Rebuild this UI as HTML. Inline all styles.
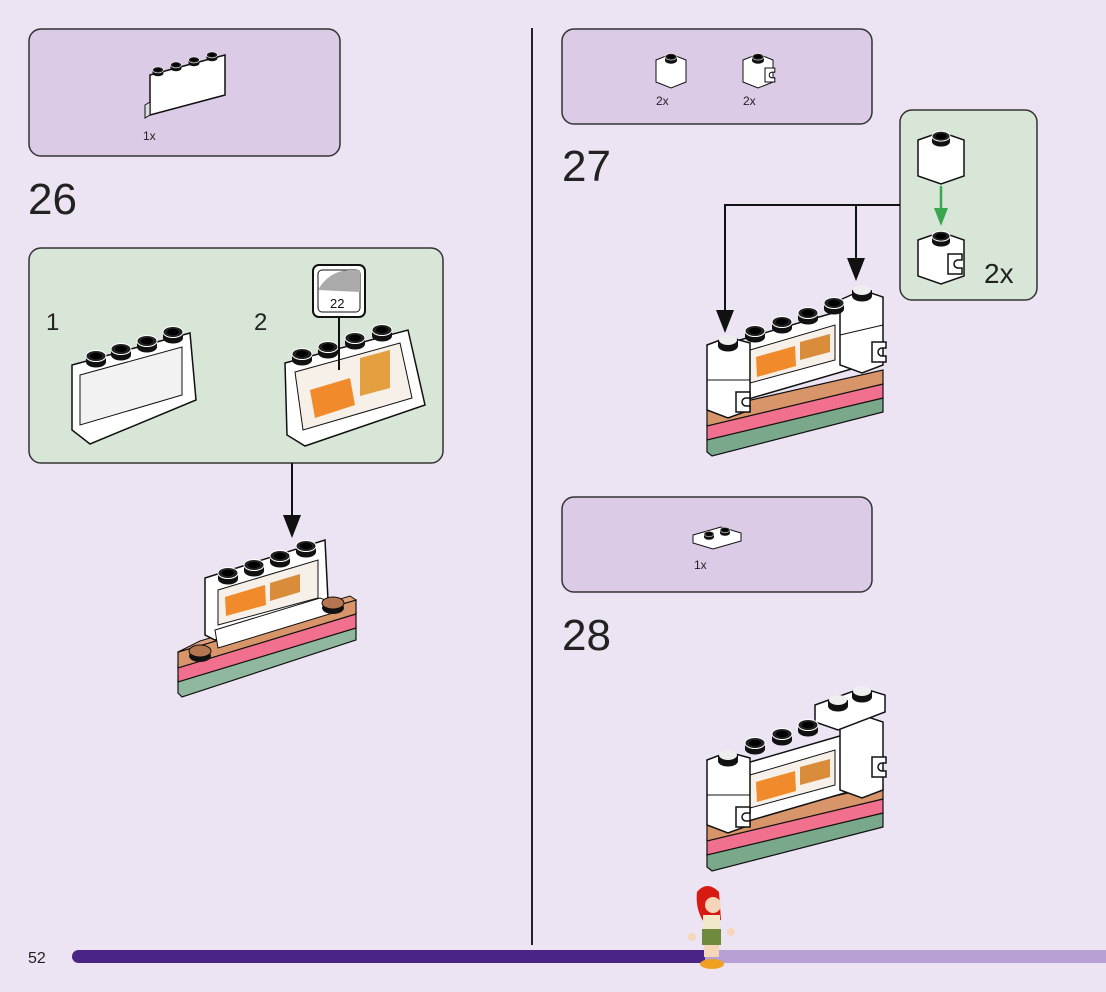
<!DOCTYPE html>
<html><head><meta charset="utf-8"><style>
html,body{margin:0;padding:0;background:#ede4f3;}
svg{display:block;font-family:"Liberation Sans",sans-serif;}
</style></head><body>
<svg width="1106" height="992" viewBox="0 0 1106 992" xmlns="http://www.w3.org/2000/svg">
<defs>
<g id="stud"><ellipse cx="0" cy="4" rx="10" ry="5.5" fill="#111"/><rect x="-10" y="-2" width="20" height="6" fill="#111"/><ellipse cx="0" cy="-2" rx="10" ry="5.5" fill="#222" stroke="#fff" stroke-width="1"/><ellipse cx="0" cy="-2" rx="6" ry="3.2" fill="#000"/></g>
<g id="wstud"><ellipse cx="0" cy="4" rx="10" ry="5.5" fill="#111"/><rect x="-10" y="-2" width="20" height="6" fill="#111"/><ellipse cx="0" cy="-2" rx="9" ry="5" fill="#eee"/></g>
<g id="clip"><path d="M0,0 h14 v6 h-4 a4,4 0 1 0 0,8 h4 v6 h-14 z" fill="#fff" stroke="#111" stroke-width="1.5"/></g>
</defs>
<rect width="1106" height="992" fill="#ede4f3"/>

<line x1="532" y1="28" x2="532" y2="945" stroke="#222" stroke-width="2"/>

<rect x="29" y="29" width="311" height="127" rx="12" fill="#dccbe6" stroke="#333" stroke-width="1.5"/>
<g transform="translate(145,50)">
<polygon points="5,25 80,5 80,45 5,65" fill="#fff" stroke="#111" stroke-width="1.5"/>
<polygon points="0,55 5,52 5,65 0,68" fill="#ddd" stroke="#111"/>
<use href="#stud" transform="translate(13,21) scale(0.55)"/>
<use href="#stud" transform="translate(31,16) scale(0.55)"/>
<use href="#stud" transform="translate(49,11) scale(0.55)"/>
<use href="#stud" transform="translate(67,6) scale(0.55)"/>
</g>
<text x="143" y="140" font-size="12" fill="#222">1x</text>

<text x="28" y="214" font-size="44" fill="#222">26</text>

<rect x="29" y="248" width="414" height="215" rx="12" fill="#d8e6d8" stroke="#333" stroke-width="1.5"/>
<text x="46" y="330" font-size="24" fill="#222">1</text>
<text x="254" y="330" font-size="24" fill="#222">2</text>
<g>
<polygon points="72,365 190,333 196,400 90,444 72,430" fill="#fff" stroke="#111" stroke-width="1.5"/>
<polygon points="80,375 182,347 182,395 80,425" fill="#f2f2f2" stroke="#111" stroke-width="1"/>
<use href="#stud" transform="translate(96,358)"/>
<use href="#stud" transform="translate(121,351)"/>
<use href="#stud" transform="translate(147,343)"/>
<use href="#stud" transform="translate(173,334)"/>
</g>
<g>
<polygon points="285,363 408,330 425,405 305,446 287,435" fill="#fff" stroke="#111" stroke-width="1.5"/>
<polygon points="295,372 400,343 412,398 303,430" fill="#f6f0e8" stroke="#111"/>
<polygon points="310,390 350,378 355,405 315,418" fill="#f08a2a"/>
<polygon points="360,358 390,350 390,388 360,396" fill="#e4a040"/>
<use href="#stud" transform="translate(302,356)"/>
<use href="#stud" transform="translate(328,349)"/>
<use href="#stud" transform="translate(355,340)"/>
<use href="#stud" transform="translate(382,332)"/>
<rect x="313" y="265" width="52" height="52" rx="6" fill="#fff" stroke="#111" stroke-width="2"/>
<rect x="318" y="270" width="42" height="42" rx="4" fill="#fff" stroke="#111" stroke-width="1"/>
<path d="M318,290 q10,-18 30,-20 l12,0 l0,22 z" fill="#aaa"/>
<text x="330" y="308" font-size="13" fill="#111">22</text>
<line x1="339" y1="317" x2="339" y2="370" stroke="#111" stroke-width="2"/>
</g>
<line x1="292" y1="463" x2="292" y2="520" stroke="#111" stroke-width="2"/>
<polygon points="283,515 301,515 292,538" fill="#111"/>

<g>
<polygon points="178,680 356,626 356,640 182,697 178,693" fill="#8fb89e" stroke="#111" stroke-width="1.2"/>
<polygon points="178,665 356,612 356,628 178,682" fill="#f0708e" stroke="#111" stroke-width="1.2"/>
<polygon points="178,652 356,600 356,614 178,668" fill="#d8956a" stroke="#111" stroke-width="1.2"/>
<polygon points="178,652 200,641 350,596 356,600" fill="#e1a27a" stroke="#111"/>
<polygon points="205,578 325,540 328,600 215,640 205,635" fill="#fff" stroke="#111" stroke-width="1.5"/>
<polygon points="218,590 318,560 318,598 218,625" fill="#f6f0e8" stroke="#111"/>
<polygon points="225,597 265,585 266,605 226,616" fill="#f08a2a"/>
<polygon points="270,583 300,574 300,592 270,601" fill="#d98c3a"/>
<polygon points="215,630 320,598 336,604 336,612 218,648" fill="#fff" stroke="#111"/>
<use href="#stud" transform="translate(228,575)"/>
<use href="#stud" transform="translate(254,567)"/>
<use href="#stud" transform="translate(280,558)"/>
<use href="#stud" transform="translate(306,548)"/>
<g transform="translate(200,652)"><ellipse cx="0" cy="4" rx="11" ry="6" fill="#111"/><ellipse cx="0" cy="-1" rx="11" ry="6" fill="#b57550" stroke="#111"/></g>
<g transform="translate(333,604)"><ellipse cx="0" cy="4" rx="11" ry="6" fill="#111"/><ellipse cx="0" cy="-1" rx="11" ry="6" fill="#b57550" stroke="#111"/></g>
</g>

<rect x="562" y="29" width="310" height="95" rx="12" fill="#dccbe6" stroke="#333" stroke-width="1.5"/>
<g transform="translate(656,52)">
<polygon points="0,8 15,2 30,8 30,30 15,36 0,30" fill="#fff" stroke="#111"/>
<use href="#stud" transform="translate(15,6) scale(0.6)"/>
</g>
<g transform="translate(743,52)">
<polygon points="0,8 15,2 30,8 30,30 15,36 0,30" fill="#fff" stroke="#111"/>
<use href="#stud" transform="translate(15,6) scale(0.6)"/>
<use href="#clip" transform="translate(22,16) scale(0.7)"/>
</g>
<text x="656" y="105" font-size="12" fill="#222">2x</text>
<text x="743" y="105" font-size="12" fill="#222">2x</text>

<text x="562" y="181" font-size="44" fill="#222">27</text>

<rect x="900" y="110" width="137" height="190" rx="12" fill="#d8e6d8" stroke="#333" stroke-width="1.5"/>
<g transform="translate(918,130)">
<polygon points="0,10 23,2 46,10 46,46 23,54 0,46" fill="#fff" stroke="#111" stroke-width="1.5"/>
<use href="#stud" transform="translate(23,8) scale(0.9)"/>
</g>
<line x1="941" y1="186" x2="941" y2="215" stroke="#3aa64f" stroke-width="2.5"/>
<polygon points="934,208 948,208 941,226" fill="#3aa64f"/>
<g transform="translate(918,230)">
<polygon points="0,10 23,2 46,10 46,46 23,54 0,46" fill="#fff" stroke="#111" stroke-width="1.5"/>
<use href="#stud" transform="translate(23,8) scale(0.9)"/>
<use href="#clip" transform="translate(30,24) scale(1)"/>
</g>
<text x="984" y="283" font-size="28" fill="#222">2x</text>

<polyline points="900,205 725,205 725,315" fill="none" stroke="#111" stroke-width="2"/>
<polygon points="716,310 734,310 725,333" fill="#111"/>
<line x1="856" y1="205" x2="856" y2="262" stroke="#111" stroke-width="2"/>
<polygon points="847,258 865,258 856,281" fill="#111"/>

<!-- step 27 model -->
<g>
<polygon points="707,438 883,398 883,412 712,456 707,452" fill="#7aa88a" stroke="#111" stroke-width="1.2"/>
<polygon points="707,424 883,384 883,398 707,440" fill="#f0708e" stroke="#111" stroke-width="1.2"/>
<polygon points="707,410 883,370 883,384 707,426" fill="#d8956a" stroke="#111" stroke-width="1.2"/>
<polygon points="740,340 850,308 855,368 745,400" fill="#fff" stroke="#111" stroke-width="1.5"/>
<polygon points="750,350 835,325 835,360 750,383" fill="#f6f0e8" stroke="#111"/>
<polygon points="756,357 795,346 796,366 757,377" fill="#f08a2a"/>
<polygon points="800,342 830,334 830,352 800,360" fill="#d98c3a"/>
<polygon points="707,345 728,337 750,343 750,410 728,418 707,410" fill="#fff" stroke="#111" stroke-width="1.5"/>
<line x1="707" y1="380" x2="750" y2="380" stroke="#111"/>
<polygon points="840,300 862,290 883,297 883,365 862,373 840,365" fill="#fff" stroke="#111" stroke-width="1.5"/>
<line x1="840" y1="335" x2="883" y2="325" stroke="#111"/>
<use href="#wstud" transform="translate(728,342)"/>
<use href="#wstud" transform="translate(862,292)"/>
<use href="#stud" transform="translate(755,333)"/>
<use href="#stud" transform="translate(782,324)"/>
<use href="#stud" transform="translate(808,315)"/>
<use href="#stud" transform="translate(834,305)"/>
<use href="#clip" transform="translate(736,392)"/>
<use href="#clip" transform="translate(872,342)"/>
</g>

<rect x="562" y="497" width="310" height="95" rx="12" fill="#dccbe6" stroke="#333" stroke-width="1.5"/>
<g transform="translate(693,525)">
<polygon points="0,10 28,2 48,8 48,16 20,24 0,18" fill="#fff" stroke="#111"/>
<use href="#stud" transform="translate(16,10) scale(0.5)"/>
<use href="#stud" transform="translate(32,6) scale(0.5)"/>
</g>
<text x="694" y="569" font-size="12" fill="#222">1x</text>

<text x="562" y="650" font-size="44" fill="#222">28</text>

<!-- step 28 model -->
<g>
<polygon points="707,853 883,813 883,827 712,871 707,867" fill="#7aa88a" stroke="#111" stroke-width="1.2"/>
<polygon points="707,839 883,799 883,813 707,855" fill="#f0708e" stroke="#111" stroke-width="1.2"/>
<polygon points="707,825 883,785 883,799 707,841" fill="#d8956a" stroke="#111" stroke-width="1.2"/>
<polygon points="740,765 850,733 855,790 745,822" fill="#fff" stroke="#111" stroke-width="1.5"/>
<polygon points="750,775 835,750 835,785 750,808" fill="#f6f0e8" stroke="#111"/>
<polygon points="756,782 795,771 796,791 757,802" fill="#f08a2a"/>
<polygon points="800,767 830,759 830,777 800,785" fill="#d98c3a"/>
<polygon points="707,760 728,752 750,758 750,825 728,833 707,825" fill="#fff" stroke="#111" stroke-width="1.5"/>
<line x1="707" y1="795" x2="750" y2="795" stroke="#111"/>
<polygon points="840,725 862,715 883,722 883,790 862,798 840,790" fill="#fff" stroke="#111" stroke-width="1.5"/>
<polygon points="815,705 862,688 885,695 885,712 838,730 815,722" fill="#fff" stroke="#111" stroke-width="1.5"/>
<use href="#wstud" transform="translate(838,702)"/>
<use href="#wstud" transform="translate(862,693)"/>
<use href="#wstud" transform="translate(728,757)"/>
<use href="#stud" transform="translate(755,745)"/>
<use href="#stud" transform="translate(782,736)"/>
<use href="#stud" transform="translate(808,727)"/>
<use href="#clip" transform="translate(736,807)"/>
<use href="#clip" transform="translate(872,757)"/>
</g>

<text x="28" y="963" font-size="16" fill="#222">52</text>
<rect x="72" y="950" width="640" height="13" rx="6.5" fill="#4b2585"/>
<rect x="705" y="950" width="401" height="13" fill="#b8a0d4"/>
<g>
<path d="M697,892 q10,-12 22,0 l2,28 l-16,4 q-10,-14 -8,-32 z" fill="#d81b12"/>
<circle cx="713" cy="905" r="8" fill="#f5d6b8"/>
<rect x="703" y="915" width="17" height="15" fill="#f0e8c8"/>
<rect x="702" y="929" width="19" height="16" fill="#6f8a3a"/>
<rect x="704" y="945" width="15" height="12" fill="#f5d6b8"/>
<ellipse cx="712" cy="964" rx="12" ry="5" fill="#f0a020"/>
<circle cx="692" cy="937" r="4" fill="#f5d6b8"/>
<circle cx="731" cy="932" r="4" fill="#f5d6b8"/>
</g>
</svg>
</body></html>
